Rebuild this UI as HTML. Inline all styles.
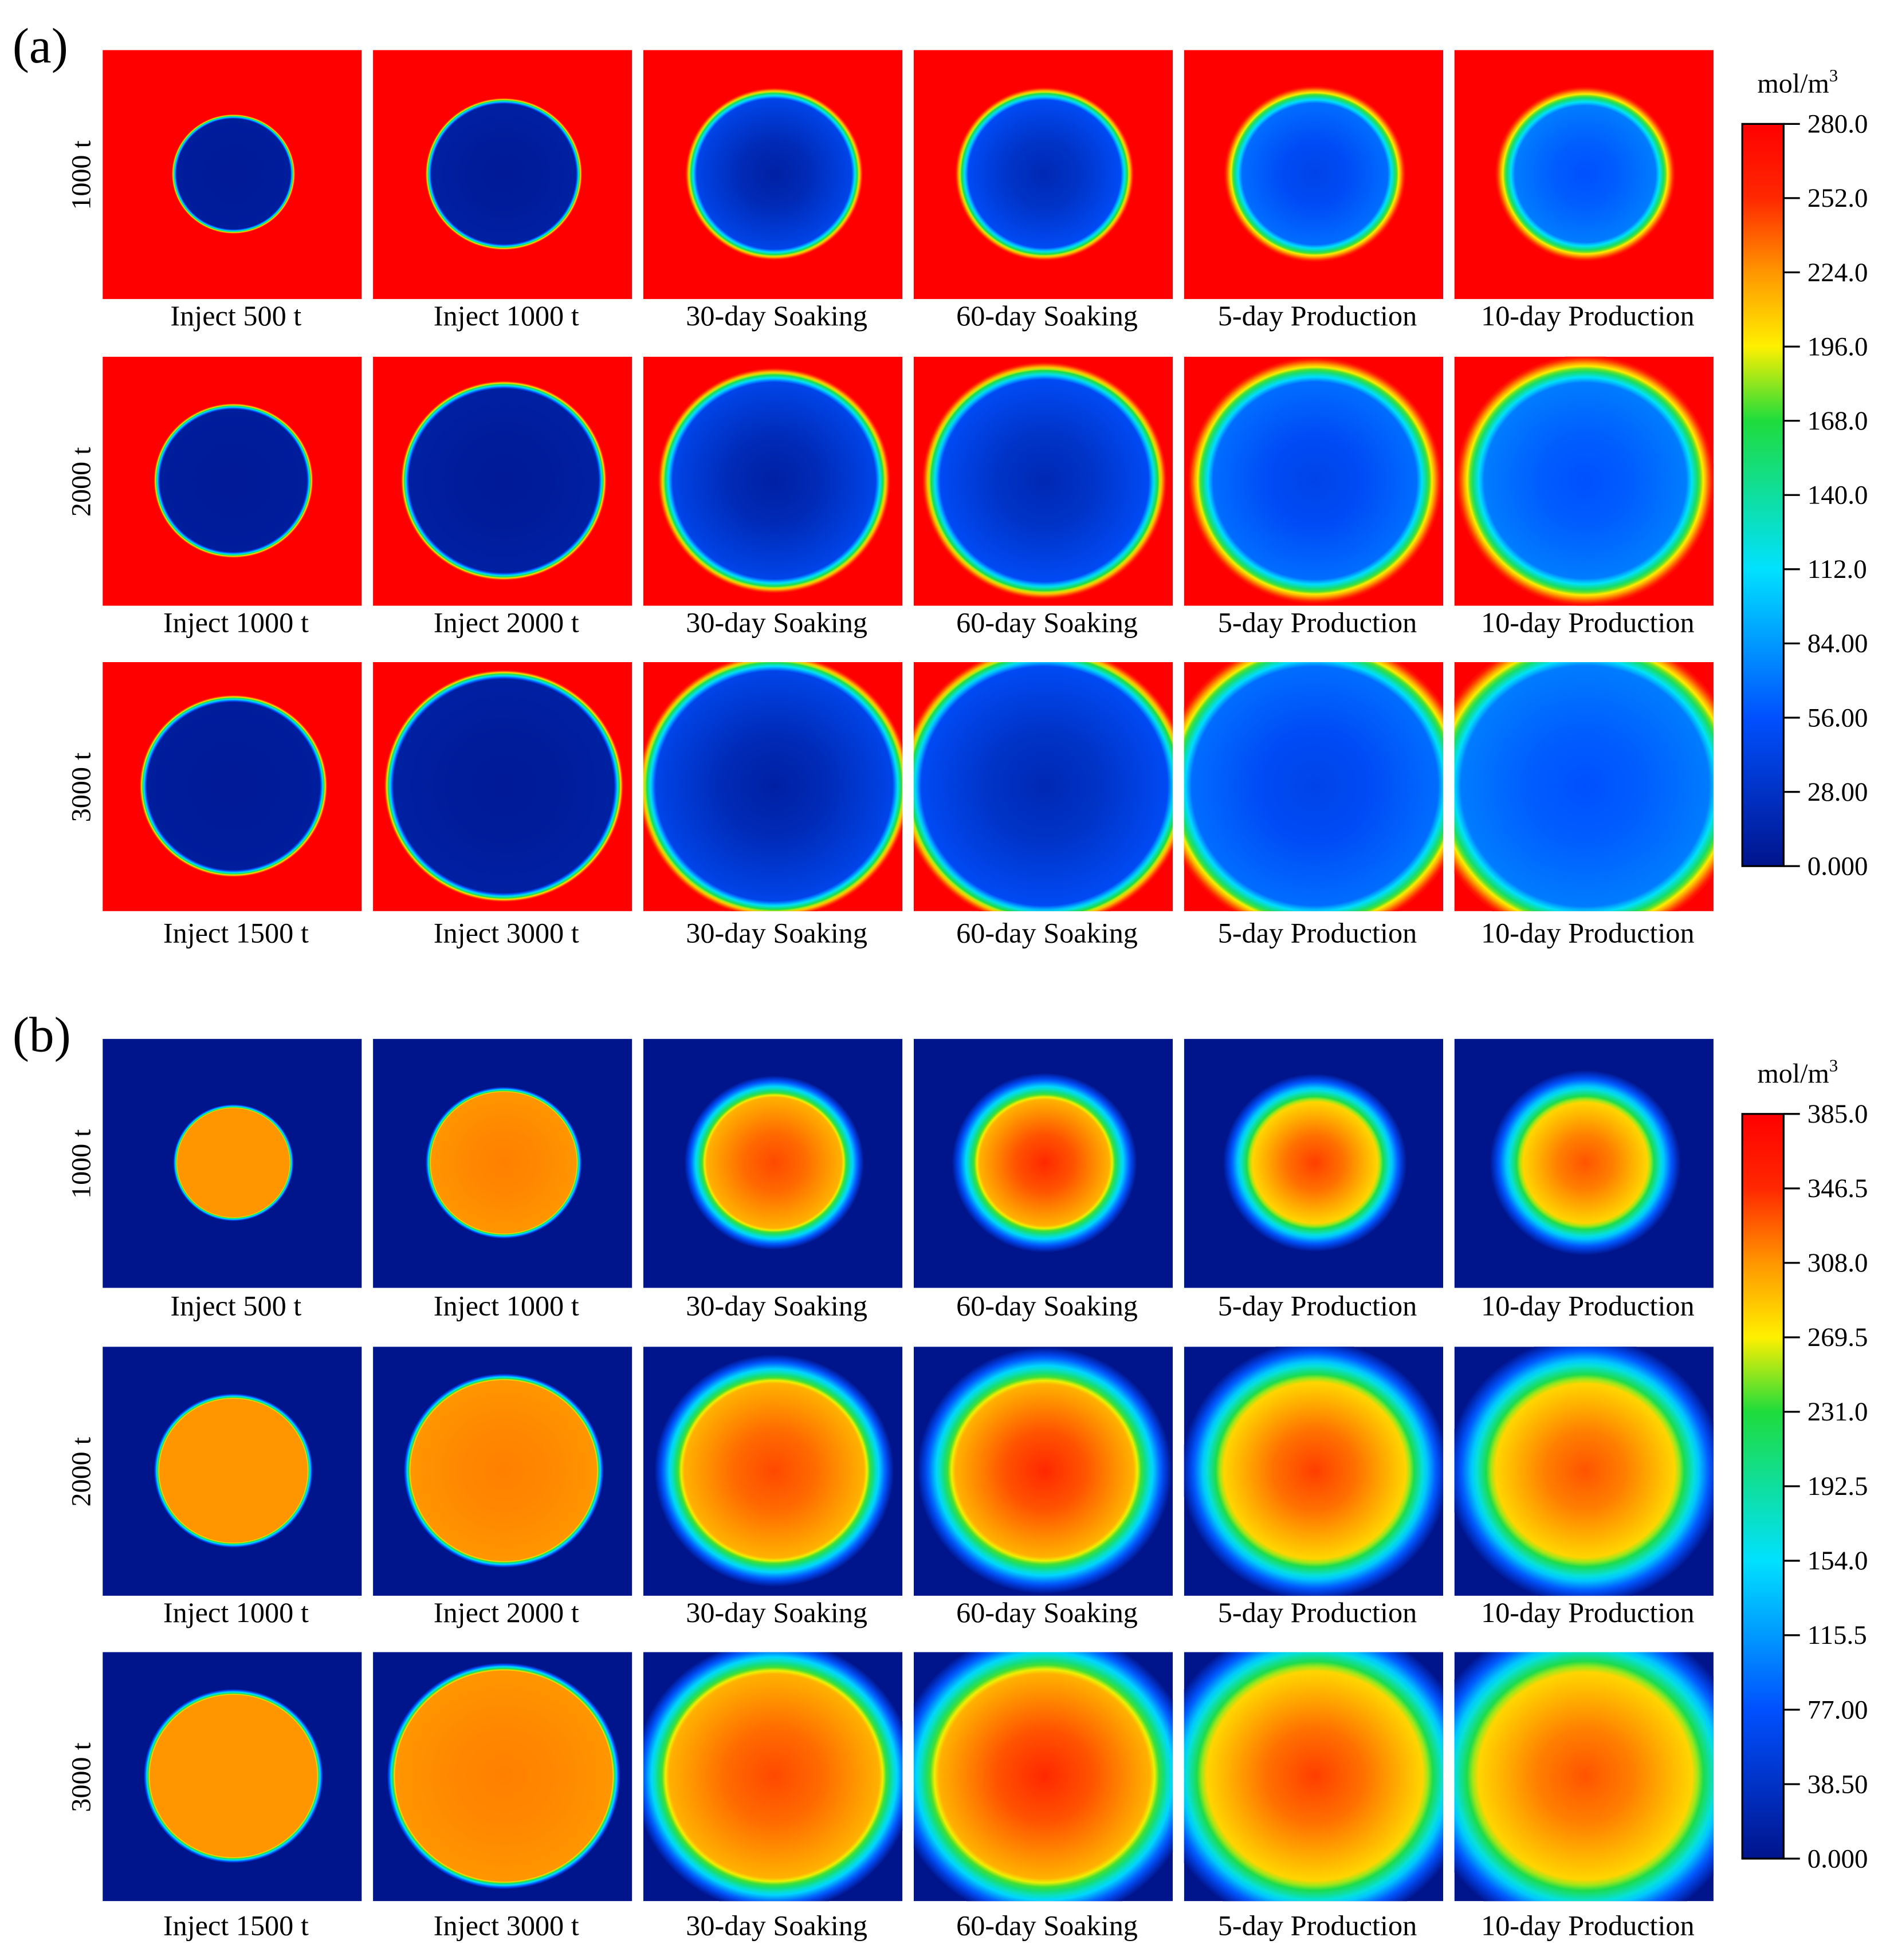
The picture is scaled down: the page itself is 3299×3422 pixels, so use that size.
<!DOCTYPE html>
<html><head><meta charset="utf-8">
<style>html,body{margin:0;padding:0;background:#fff;}svg{display:block;}</style></head>
<body>
<svg id="fig" xmlns="http://www.w3.org/2000/svg" width="3299" height="3422" viewBox="0 0 1510 1566" preserveAspectRatio="none" font-family="Liberation Serif, serif">
<defs id="defs"></defs>
<text x="10" y="50" font-size="40">(a)</text>
<text x="10" y="840" font-size="40">(b)</text>
</svg>
<script>
// ---- data ----
const colLabelsTop = ["Inject 500 t","Inject 1000 t","30-day  Soaking","60-day  Soaking","5-day  Production","10-day  Production"];
const colLabelsMid = ["Inject 1000 t","Inject 2000 t","30-day  Soaking","60-day  Soaking","5-day  Production","10-day  Production"];
const colLabelsBot = ["Inject 1500 t","Inject 3000 t","30-day  Soaking","60-day  Soaking","5-day  Production","10-day  Production"];
const rowLabels = ["1000 t","2000 t","3000 t"];
// plume radii (display units) per row
const radiiA = [[48,61,68,68,68,67],[62,80,89,93,95,96],[73,93,104,110,115,118]];
const radiiB = [[47,61,66,67,66,68],[62,78,88,92,96,98],[70,91,103,109,114,117]];
// normalized center / inner-edge values per column
const centerA = [0.02,0.02,0.04,0.07,0.16,0.2];
const innerA  = [0.03,0.04,0.16,0.18,0.24,0.26];
const rimA    = [0.08,0.08,0.13,0.15,0.2,0.22];
const centerB = [0.8,0.82,0.87,0.9,0.88,0.86];
const innerB  = [0.8,0.8,0.77,0.77,0.73,0.73];
const rimB    = [0.07,0.07,0.25,0.3,0.32,0.35];
const ticksA = ["280.0","252.0","224.0","196.0","168.0","140.0","112.0","84.00","56.00","28.00","0.000"];
const ticksB = ["385.0","346.5","308.0","269.5","231.0","192.5","154.0","115.5","77.00","38.50","0.000"];

const cmap = [[0,[0,20,140]],[0.2,[0,80,255]],[0.4,[0,225,255]],[0.6,[30,220,60]],[0.7,[255,240,0]],[0.8,[255,150,0]],[0.9,[255,40,0]],[1,[255,0,0]]];
function col(t){t=Math.max(0,Math.min(1,t));for(let i=1;i<cmap.length;i++){if(t<=cmap[i][0]){const a=cmap[i-1],b=cmap[i];const f=(t-a[0])/(b[0]-a[0]);const c=a[1].map((v,k)=>Math.round(v+(b[1][k]-v)*f));return `rgb(${c})`;}}return 'rgb(255,0,0)';}

const NS="http://www.w3.org/2000/svg";
const svg=document.getElementById('fig');const defs=document.getElementById('defs');
const colX=[82,298,514,730,946,1162];const W=207;
const rowsA=[40,285,529], rowsB=[830,1076,1320];
const capA=[260,505,753], capB=[1051,1296,1546];
function mk(tag,attrs,parent){const e=document.createElementNS(NS,tag);for(const k in attrs)e.setAttribute(k,attrs[k]);(parent||svg).appendChild(e);return e;}
let gid=0;
function panelSet(rows,caps,radii,center,inner,rim,bg,labels,pfx){
  rows.forEach((y,r)=>{
    const rl=mk('text',{x:0,y:0,'font-size':22,'text-anchor':'middle',transform:`translate(72,${y+100}) rotate(-90)`});
    
    
    rl.textContent=rowLabels[r];
    colX.forEach((x,c)=>{
      const id='g'+(gid++);
      const g=mk('radialGradient',{id:id,cx:'50%',cy:'50%',r:'50%'},defs);
      const f=1-rim[c];
      mk('stop',{offset:0,'stop-color':col(center[c])},g);
      mk('stop',{offset:f*0.45,'stop-color':col(center[c]+(inner[c]-center[c])*0.3)},g);
      mk('stop',{offset:f,'stop-color':col(inner[c])},g);
      for(let k=1;k<=10;k++){mk('stop',{offset:f+(1-f)*k/10,'stop-color':col(inner[c]+(bg-inner[c])*k/10)},g);}
      const cid='c'+id;const cp=mk('clipPath',{id:cid},defs);mk('rect',{x:x,y:y,width:W,height:199},cp);
      const grp=mk('g',{'clip-path':`url(#${cid})`});
      
      
      mk('rect',{x:x,y:y,width:W,height:199,fill:col(bg)},grp);
      const rr=radii[r][c]*(1+rim[c]*0.35);
      mk('ellipse',{cx:x+W/2+1,cy:y+99,rx:rr,ry:rr*0.97,fill:`url(#${id})`},grp);
      const t=mk('text',{x:x+W/2+3,y:caps[r],'font-size':23,'text-anchor':'middle','xml:space':'preserve'});
      
      
      t.textContent=labels[r][c];
    });
  });
}
const labs=[colLabelsTop,colLabelsMid,colLabelsBot];
panelSet(rowsA,capA,radiiA,centerA,innerA,rimA,1,labs,'a');
panelSet(rowsB,capB,radiiB,centerB,innerB,rimB,0,labs,'b');

function colorbar(top,bottom,ticks,pfx){
  const id='cb'+pfx;const g=mk('linearGradient',{id:id,x1:0,y1:1,x2:0,y2:0},defs);
  for(let k=0;k<=20;k++)mk('stop',{offset:k/20,'stop-color':col(k/20)},g);
  const r=mk('rect',{x:1392,y:top,width:33,height:bottom-top,fill:`url(#${id})`,stroke:'#000','stroke-width':1.5});
  
  
  ticks.forEach((tk,i)=>{
    const y=top+(bottom-top)*i/(ticks.length-1);
    mk('line',{x1:1425,x2:1438,y1:y,y2:y,stroke:'#000','stroke-width':1.5});
    const t=mk('text',{x:1444,y:y+7,'font-size':21.5});
    
    
    t.textContent=tk;
  });
  const u=mk('text',{x:1404,y:top-25,'font-size':22});
  
  
  u.innerHTML='mol/m<tspan dy="-9" font-size="14">3</tspan>';
}
colorbar(99,692,ticksA,'a');
colorbar(890,1485,ticksB,'b');
</script>
</body></html>
